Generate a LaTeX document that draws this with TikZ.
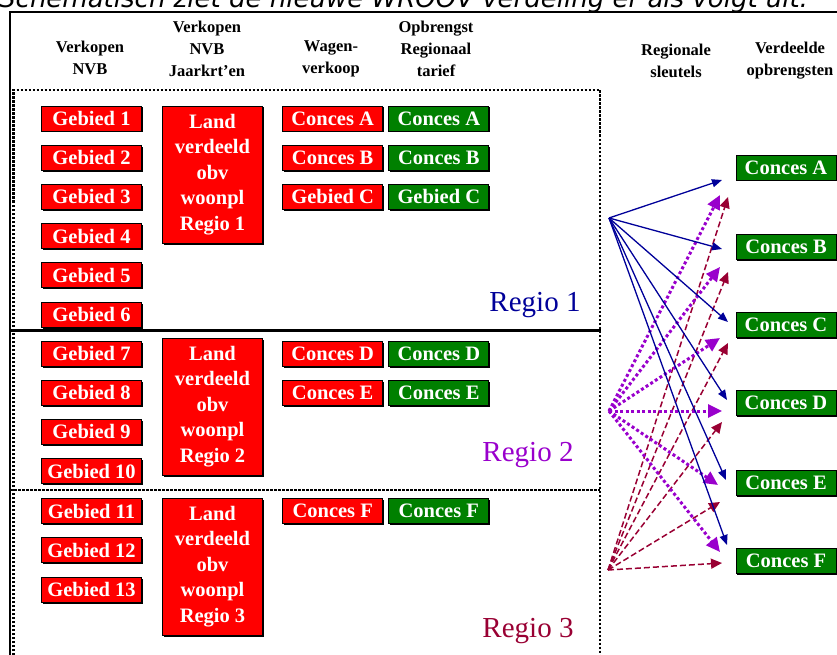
\documentclass[tikz,border=0pt]{standalone}
\usepackage{fontspec}
\setmainfont{Liberation Serif}
\newfontfamily\capfont{DejaVu Sans}
\usetikzlibrary{arrows.meta,shadows}
\definecolor{boxred}{HTML}{FF0000}
\definecolor{boxgreen}{HTML}{008000}
\definecolor{rblue}{HTML}{000099}
\definecolor{rpurple}{HTML}{9900CC}
\definecolor{rred}{HTML}{990033}
\begin{document}
\begin{tikzpicture}[x=1pt,y=-1pt,
 cell/.style={draw=black, line width=0.8pt, minimum width=100pt, minimum height=25pt, inner sep=0pt, text=white, font=\fontsize{20.5}{20.5}\selectfont\bfseries, drop shadow={shadow xshift=1pt,shadow yshift=-1.5pt,opacity=1,fill=black}},
 redcell/.style={cell, fill=boxred},
 greencell/.style={cell, fill=boxgreen},
 landcell/.style={redcell, minimum height=137pt, align=center, font=\fontsize{20.5}{25.5}\selectfont\bfseries},
 head/.style={align=center, inner sep=0pt, font=\fontsize{16.5}{22}\selectfont\bfseries},
 regio/.style={anchor=base, inner sep=0pt, font=\fontsize{29}{29}\selectfont},
 dotline/.style={line width=2.5pt, dash pattern=on 2.5pt off 1.5pt},
 barrow/.style={draw=rblue, line width=1.3pt, -{Triangle[length=10pt,width=8pt]}},
 parrow/.style={draw=rpurple, line width=3pt, dash pattern=on 3pt off 2.5pt, -{Triangle[length=14pt,width=13pt]}},
 rarrow/.style={draw=rred, line width=1.5pt, dash pattern=on 6pt off 3pt, -{Triangle[length=11pt,width=10pt]}}
]
\useasboundingbox (0,0) rectangle (837,655);
\clip (0,0) rectangle (837,655);

% caption (cut at the top, as in the reference)
\node[anchor=base west, inner sep=0pt, font=\capfont\itshape\fontsize{26}{26}\selectfont] (cap) at (-1,8) {Schematisch ziet de nieuwe WROOV verdeling er als volgt uit:};

% frame
\draw[line width=2pt] (837,12) -- (10,12) -- (10,655);
\draw[dotline] (13.5,655) -- (13.5,90) -- (600,90) -- (600,655);
\draw[line width=3pt] (10,330) -- (601,330);
\draw[dotline] (10,490) -- (600,490);

% headers
\node[head] (h1) at (90,58) {Verkopen\\NVB};
\node[head] (h2) at (207,49) {Verkopen\\NVB\\Jaarkrt'en};
\node[head] (h3) at (331,59) {Wagen-\\verkoop};
\node[head] (h4) at (436,49) {Opbrengst\\Regionaal\\tarief};
\node[head] (h5) at (676,60.5) {Regionale\\sleutels};
\node[head] (h6) at (790,60.5) {Verdeelde\\opbrengsten};

% Gebied column
\foreach \i/\y in {1/118.5,2/157.7,3/196.9,4/236.1,5/275.3,6/314.5,7/353.5,8/392.7,9/431.9,10/471.1,11/511,12/550.3,13/589.5}
  \node[redcell] (g\i) at (91.5,\y) {Gebied \i};

% Land boxes
\node[landcell] (land1) at (212.5,174.5) {Land\\verdeeld\\obv\\woonpl\\Regio 1};
\node[landcell] (land2) at (212.5,406.5) {Land\\verdeeld\\obv\\woonpl\\Regio 2};
\node[landcell] (land3) at (212.5,566.5) {Land\\verdeeld\\obv\\woonpl\\Regio 3};

% Wagenverkoop / Opbrengst
\node[redcell] (wA) at (332.7,118.5) {Conces A};
\node[redcell] (wB) at (332.7,157.7) {Conces B};
\node[redcell] (wC) at (332.7,196.9) {Gebied C};
\node[redcell] (wD) at (332.7,353.5) {Conces D};
\node[redcell] (wE) at (332.7,392.7) {Conces E};
\node[redcell] (wF) at (332.7,511) {Conces F};
\node[greencell] (oA) at (438.8,118.5) {Conces A};
\node[greencell] (oB) at (438.8,157.7) {Conces B};
\node[greencell] (oC) at (438.8,196.9) {Gebied C};
\node[greencell] (oD) at (438.8,353.5) {Conces D};
\node[greencell] (oE) at (438.8,392.7) {Conces E};
\node[greencell] (oF) at (438.8,511) {Conces F};

% Regio labels
\node[regio, text=rblue] (r1) at (535,311) {Regio 1};
\node[regio, text=rpurple] (r2) at (528,461) {Regio 2};
\node[regio, text=rred] (r3) at (528,637) {Regio 3};

% Verdeelde opbrengsten
\foreach \n/\y in {A/167.5,B/247,C/325,D/403,E/483,F/560.5}
  \node[greencell] (v\n) at (786,\y) {Conces \n};

% sources
\coordinate (sb) at (609,218);
\coordinate (sp) at (609,411);
\coordinate (sr) at (608,570);

% targets
\coordinate (tbA) at (722,180);
\coordinate (tbB) at (722,249);
\coordinate (tbC) at (728,322);
\coordinate (tbD) at (727,400);
\coordinate (tbE) at (726,480);
\coordinate (tbF) at (727,545);
\coordinate (tpA) at (720,195);
\coordinate (tpB) at (720,267);
\coordinate (tpC) at (720,338);
\coordinate (tpD) at (722,411);
\coordinate (tpE) at (718,485);
\coordinate (tpF) at (720,552);
\coordinate (trA) at (728,197);
\coordinate (trB) at (728,272);
\coordinate (trC) at (728,343);
\coordinate (trD) at (722,422);
\coordinate (trE) at (720,502);
\coordinate (trF) at (722,563);

\foreach \n in {A,B,C,D,E,F} \draw[rarrow] (sr) -- (tr\n);
\foreach \n in {A,B,C,D,E,F} \draw[parrow] (sp) -- (tp\n);
\foreach \n in {A,B,C,D,E,F} \draw[barrow] (sb) -- (tb\n);
\end{tikzpicture}
\end{document}
